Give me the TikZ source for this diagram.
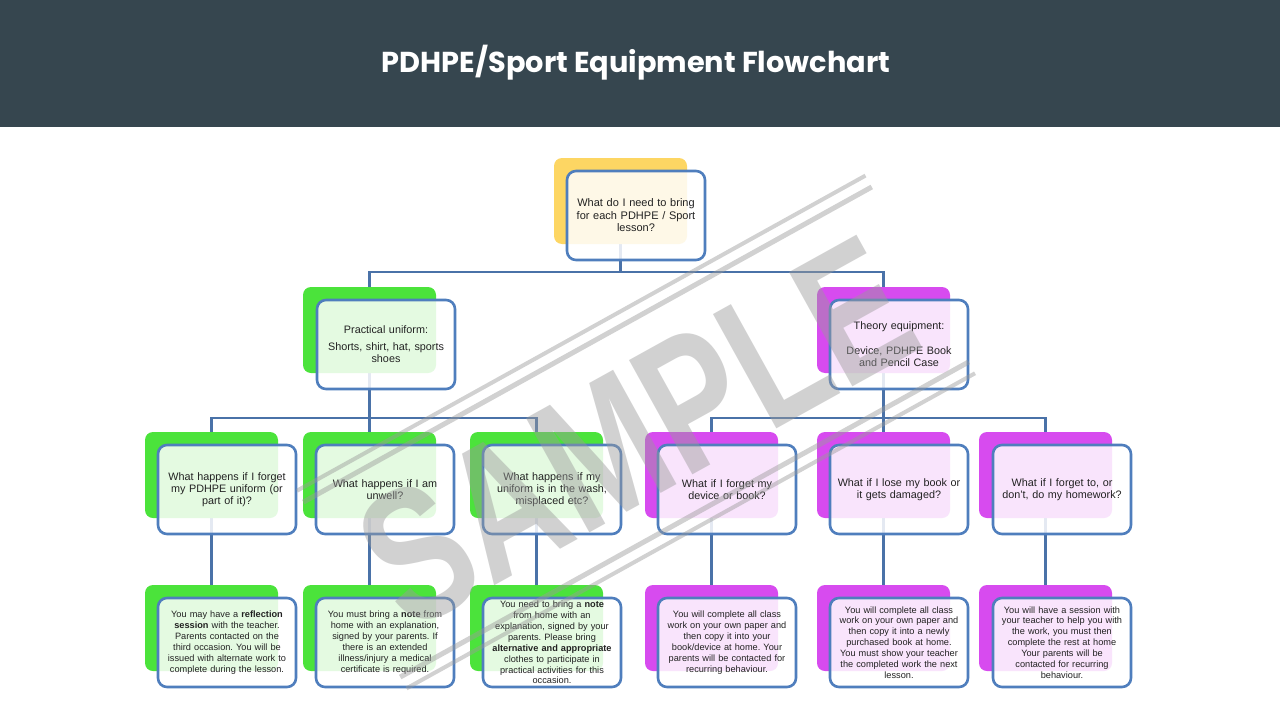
\documentclass[tikz,border=0pt]{standalone}
\usepackage{fontspec}
\setmainfont{Liberation Sans}
\newfontfamily\titlefont{Poppins}
\frenchspacing
\pgfdeclarelayer{bg}
\pgfdeclarelayer{lines}
\pgfdeclarelayer{fg}
\pgfsetlayers{bg,lines,main,fg}
\definecolor{header}{HTML}{36464F}
\definecolor{bord}{HTML}{4F7EBD}
\definecolor{conn}{HTML}{4A72A8}
\definecolor{ygold}{HTML}{FDD663}
\definecolor{gr}{HTML}{4BE33B}
\definecolor{mg}{HTML}{D74BEF}
\definecolor{txt}{HTML}{222222}
\definecolor{wm}{HTML}{9A9A9A}
\tikzset{
  backbox/.style={rounded corners=8pt, minimum width=133pt, minimum height=86pt, inner sep=0pt},
  frontbox/.style={draw=bord, line width=2.6pt, rounded corners=9pt, fill=white, fill opacity=0.85, text opacity=1,
     minimum width=138pt, minimum height=89pt, align=center, text=txt, inner sep=0pt, text width=137pt},
  qfont/.style={font=\fontsize{10.8}{12}\selectfont},
  afont/.style={font=\fontsize{9.2}{10.9}\selectfont},
  conline/.style={draw=conn, line width=2.5pt},
}
\begin{document}
\begin{tikzpicture}[x=1pt,y=-1pt]
\useasboundingbox (0,0) rectangle (1280,720);
\begin{pgfonlayer}{bg}
\fill[white] (0,0) rectangle (1280,720);
\fill[header] (0,0) rectangle (1280,127);
\end{pgfonlayer}
\node[font=\titlefont\bfseries\fontsize{28.8}{34}\selectfont, text=white] (title) at (636,63) {PDHPE/Sport Equipment Flowchart};

% back boxes
\node[backbox, fill=ygold] (b0) at (620.5,201) {};
\node[backbox, fill=gr] (bL) at (369.5,330) {};
\node[backbox, fill=mg] (bR) at (883.5,330) {};
\node[backbox, fill=gr] (b31) at (211.5,475) {};
\node[backbox, fill=gr] (b32) at (369.5,475) {};
\node[backbox, fill=gr] (b33) at (536.5,475) {};
\node[backbox, fill=mg] (b34) at (711.5,475) {};
\node[backbox, fill=mg] (b35) at (883.5,475) {};
\node[backbox, fill=mg] (b36) at (1045.5,475) {};
\node[backbox, fill=gr] (b41) at (211.5,628) {};
\node[backbox, fill=gr] (b42) at (369.5,628) {};
\node[backbox, fill=gr] (b43) at (536.5,628) {};
\node[backbox, fill=mg] (b44) at (711.5,628) {};
\node[backbox, fill=mg] (b45) at (883.5,628) {};
\node[backbox, fill=mg] (b46) at (1045.5,628) {};

% front boxes
\node[frontbox, font=\fontsize{11}{12.5}\selectfont] (f0) at (636,215.5) {What do I need to bring\\for each PDHPE / Sport\\lesson?};
\node[frontbox, qfont] (fL) at (386,344.5) {Practical uniform:\\[5pt]Shorts, shirt, hat, sports\\shoes};
\node[frontbox, qfont] (fR) at (899,344.5) {Theory equipment:\\[13pt]Device, PDHPE Book\\and Pencil Case};
\node[frontbox, qfont] (f31) at (227,489.5) {What happens if I forget\\my PDHPE uniform (or\\part of it)?};
\node[frontbox, qfont] (f32) at (385,489.5) {What happens if I am\\unwell?};
\node[frontbox, qfont] (f33) at (552,489.5) {What happens if my\\uniform is in the wash,\\misplaced etc?};
\node[frontbox, qfont] (f34) at (727,489.5) {What if I forget my\\device or book?};
\node[frontbox, qfont] (f35) at (899,489.5) {What if I lose my book or\\it gets damaged?};
\node[frontbox, qfont] (f36) at (1062,489.5) {What if I forget to, or\\don't, do my homework?};
\node[frontbox, afont] (f41) at (227,642.5) {You may have a \textbf{reflection}\\\textbf{session} with the teacher.\\Parents contacted on the\\third occasion. You will be\\issued with alternate work to\\complete during the lesson.};
\node[frontbox, afont] (f42) at (385,642.5) {You must bring a \textbf{note} from\\home with an explanation,\\signed by your parents. If\\there is an extended\\illness/injury a medical\\certificate is required.};
\node[frontbox, afont] (f43) at (552,642.5) {You need to bring a \textbf{note}\\from home with an\\explanation, signed by your\\parents. Please bring\\\textbf{alternative and appropriate}\\clothes to participate in\\practical activities for this\\occasion.};
\node[frontbox, afont] (f44) at (727,642.5) {You will complete all class\\work on your own paper and\\then copy it into your\\book/device at home. Your\\parents will be contacted for\\recurring behaviour.};
\node[frontbox, afont] (f45) at (899,642.5) {You will complete all class\\work on your own paper and\\then copy it into a newly\\purchased book at home.\\You must show your teacher\\the completed work the next\\lesson.};
\node[frontbox, afont] (f46) at (1062,642.5) {You will have a session with\\your teacher to help you with\\the work, you must then\\complete the rest at home\\Your parents will be\\contacted for recurring\\behaviour.};

% connectors
\begin{pgfonlayer}{lines}
\coordinate (j1) at (620.5,272);
\coordinate (j2) at (369.5,418);
\coordinate (j3) at (883.5,418);
\draw[conline] (b0.south) -- (j1);
\draw[conline] (j1) -| (bL.north);
\draw[conline] (j1) -| (bR.north);
\draw[conline] (bL.south) -- (j2);
\draw[conline] (j2) -| (b31.north);
\draw[conline] (j2) -- (b32.north);
\draw[conline] (j2) -| (b33.north);
\draw[conline] (bR.south) -- (j3);
\draw[conline] (j3) -| (b34.north);
\draw[conline] (j3) -- (b35.north);
\draw[conline] (j3) -| (b36.north);
\draw[conline] (b31.south) -- (b41.north);
\draw[conline] (b32.south) -- (b42.north);
\draw[conline] (b33.south) -- (b43.north);
\draw[conline] (b34.south) -- (b44.north);
\draw[conline] (b35.south) -- (b45.north);
\draw[conline] (b36.south) -- (b46.north);
\end{pgfonlayer}

% watermark
\begin{pgfonlayer}{fg}
\begin{scope}[shift={(636,432)}, rotate=29, opacity=0.45]
\draw[wm, line width=5pt] (-325,-100) -- (325,-100);
\draw[wm, line width=4pt] (-325,-113) -- (325,-113);
\draw[wm, line width=5pt] (-325,100) -- (325,100);
\draw[wm, line width=4pt] (-325,113) -- (325,113);
\node[transform shape, text=wm, font=\bfseries\fontsize{190}{190}\selectfont, xscale=0.75] (wmtext) at (0,0) {SAMPLE};
\end{scope}
\end{pgfonlayer}
\end{tikzpicture}
\end{document}
